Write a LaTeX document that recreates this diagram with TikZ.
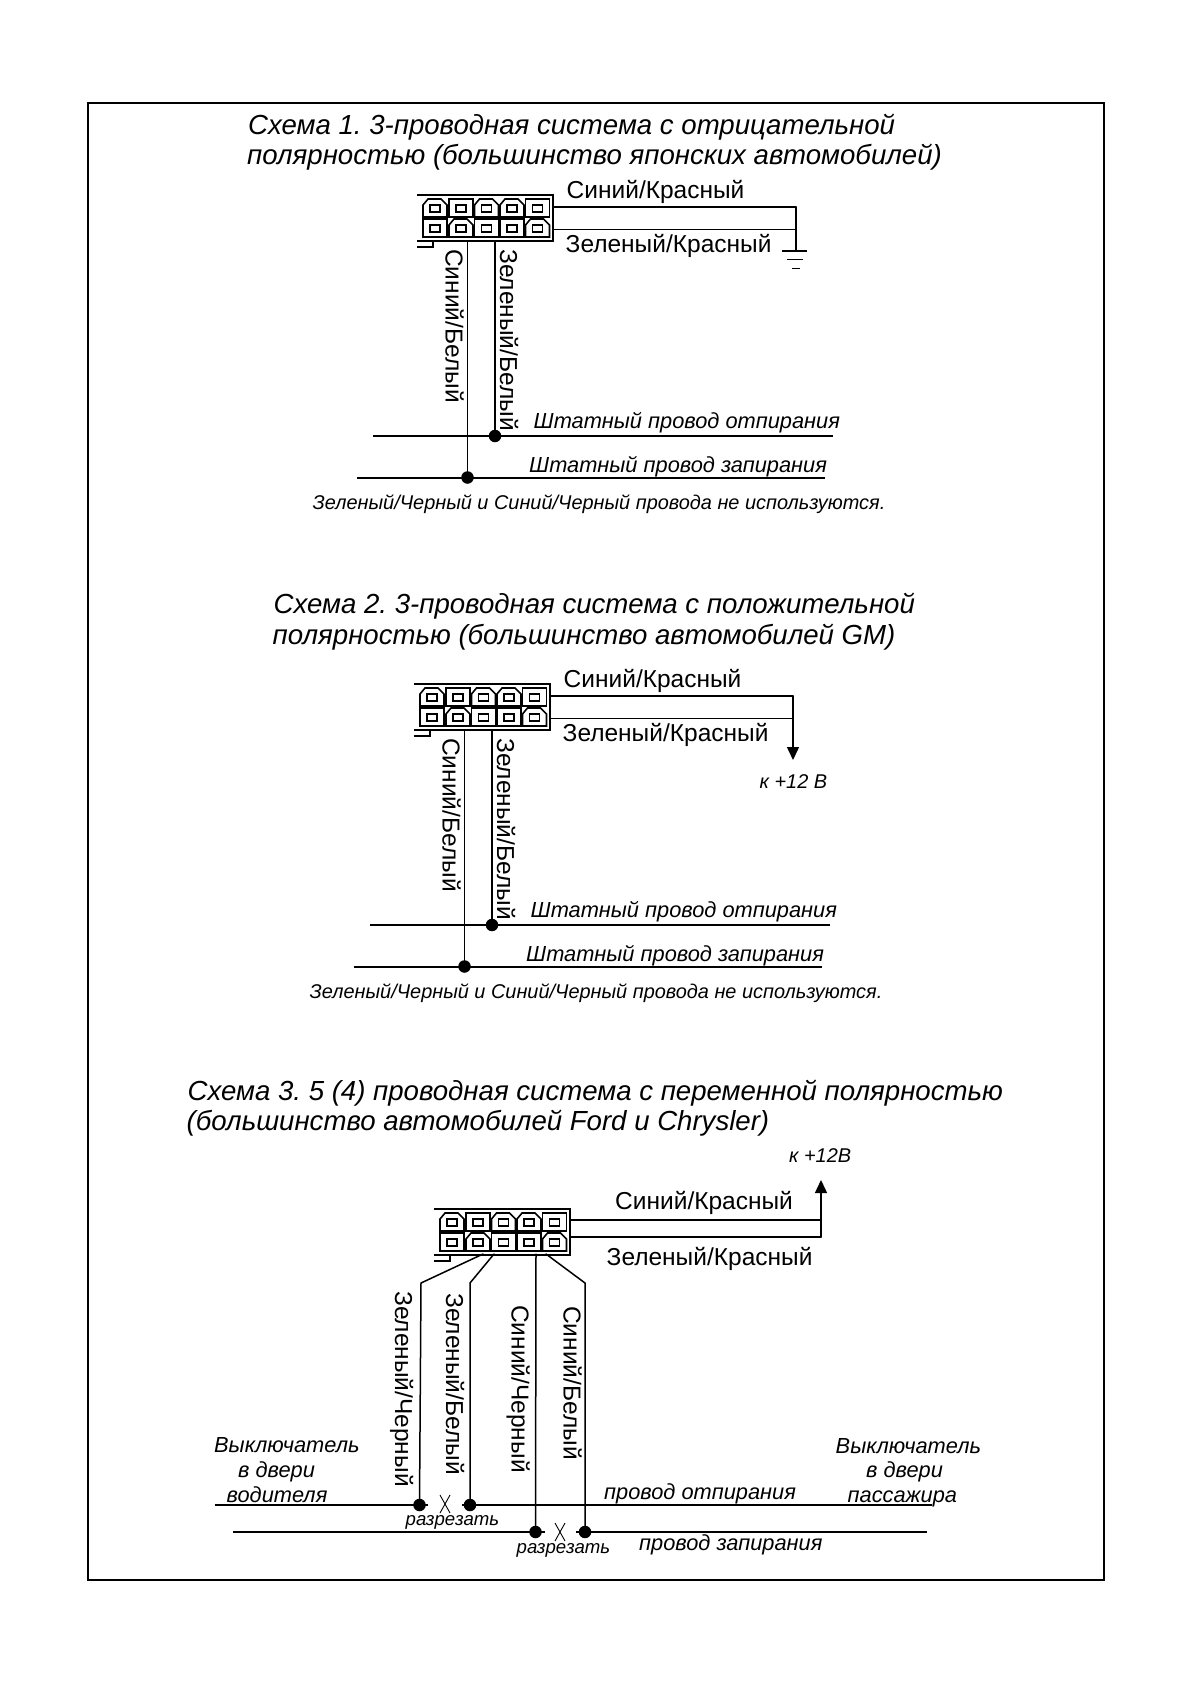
\documentclass[tikz,border=0pt]{standalone}
\usepackage{fontspec}
\setmainfont{Liberation Sans}
\usetikzlibrary{arrows.meta}
\tikzset{
  x=1pt,y=-1pt,
  wire/.style={line width=1.5pt,line cap=round},
  busline/.style={line width=2pt},
  celldraw/.style={line width=1.6pt,draw=black,fill=white},
  pinbox/.style={line width=1.4pt,draw=black},
  titletext/.style={inner sep=0,anchor=base west,font=\fontsize{27.6}{27.6}\selectfont\itshape},
  lbl/.style={inner sep=0,anchor=base west,font=\fontsize{24.5}{24.5}\selectfont},
  vlbl/.style={inner sep=0,anchor=base west,rotate=-90,font=\fontsize{24.5}{24.5}\selectfont},
  ital/.style={inner sep=0,anchor=base west,font=\fontsize{21.8}{21.8}\selectfont\itshape},
  noteit/.style={inner sep=0,anchor=base west,font=\fontsize{19.9}{19.9}\selectfont\itshape},
  cutlbl/.style={inner sep=0,anchor=base west,font=\fontsize{18.6}{18.6}\selectfont\itshape},
  dot/.style={circle,fill=black,inner sep=0,minimum size=12.5pt},
  arrowwire/.style={wire,-{Triangle[length=13pt,width=12pt]}},
}
\newcommand{\chamcell}[2]{%
  \draw[celldraw] (#1,#2+18)--(#1,#2+6)--(#1+5,#2)--(#1+18,#2)--(#1+24,#2+6)--(#1+24,#2+18)--cycle;
  \draw[pinbox] (#1+7,#2+6) rectangle (#1+17,#2+13);}
\newcommand{\sqcell}[2]{%
  \draw[celldraw] (#1,#2) rectangle (#1+24,#2+18);
  \draw[pinbox] (#1+7,#2+6) rectangle (#1+17,#2+13);}
% connector housing, drawn from its top-left corner
\newcommand{\housing}{%
  \draw[line width=1.8pt] (0,0)--(136,0)--(136,46)--(0,46);
  \draw[line width=1.4pt] (16,46)--(16,52)--(0,52);
  \chamcell{6}{4}\sqcell{32}{4}\chamcell{57.5}{4}\chamcell{83}{4}\sqcell{108.5}{4}
  \sqcell{6}{24}\chamcell{32}{24}\sqcell{57.5}{24}\sqcell{83}{24}\chamcell{108.5}{24}}
% the part shared by schemes 1 and 2
\newcommand{\threewire}[1]{%
  \housing
  \coordinate (#1hr) at (136,12);
  \coordinate (#1hg) at (136,34.5);
  \coordinate (#1j) at (379,12);
  \coordinate (#1k) at (379,34.5);
  \draw[wire] (#1hr)--(#1j);
  \draw[wire] (#1hg)--(#1k);
  \node[lbl] (#1lr) at (149.5,3) {Синий/Красный};
  \node[lbl] (#1lg) at (148.5,57.5) {Зеленый/Красный};
  \coordinate (#1a) at (50.5,46);
  \coordinate (#1b) at (78,46);
  \node[dot] (#1da) at (50.5,282.5) {};
  \node[dot] (#1db) at (78,241) {};
  \draw[wire] (#1a)--(#1da.center);
  \draw[wire] (#1b)--(#1db.center);
  \node[vlbl] (#1va) at (28.5,54) {Синий/Белый};
  \node[vlbl] (#1vb) at (83,54) {Зеленый/Белый};
  \coordinate (#1l1) at (-44,241);
  \coordinate (#1r1) at (416,241);
  \coordinate (#1l2) at (-60,282.5);
  \coordinate (#1r2) at (408,282.5);
  \draw[busline] (#1l1)--(#1r1);
  \draw[busline] (#1l2)--(#1r2);
  \node[ital] (#1t1) at (116.5,233.5) {Штатный провод отпирания};
  \node[ital] (#1t2) at (112,277.5) {Штатный провод запирания};
  \node[noteit] (#1t3) at (-104.5,314.5) {Зеленый/Черный и Синий/Черный провода не используются.};}
\begin{document}
\frenchspacing
\begin{tikzpicture}
\useasboundingbox (0,0) rectangle (1190,1684);
\fill[white] (0,0) rectangle (1190,1684);
\draw[line width=2pt] (87.5,102.5) rectangle (1104,1580);

% Scheme 1
\node[titletext] (t1a) at (248,134) {Схема 1. 3-проводная система с отрицательной};
\node[titletext] (t1b) at (247,164.5) {полярностью (большинство японских автомобилей)};
\begin{scope}[shift={(417,195)}]
  \threewire{A}
  \coordinate (gtop) at (379,12);
  \coordinate (gbot) at (379,56);
  \draw[wire] (gtop)--(gbot);
  \draw[line width=1.8pt] (365,56)--(390,56);
  \draw[line width=1pt] (370,64)--(386,64);
  \draw[line width=1pt] (375,73)--(383,73);
\end{scope}

% Scheme 2
\node[titletext] (t2a) at (273.5,613) {Схема 2. 3-проводная система с положительной};
\node[titletext] (t2b) at (272.5,644) {полярностью (большинство автомобилей GM)};
\begin{scope}[shift={(414,684)}]
  \threewire{B}
  \coordinate (btop) at (379,12);
  \coordinate (bbot) at (379,76);
  \draw[arrowwire] (btop)--(bbot);
  \node[noteit] (bv) at (345.5,104) {к +12 В};
\end{scope}

% Scheme 3
\node[titletext] (t3a) at (187.5,1100) {Схема 3. 5 (4) проводная система с переменной полярностью};
\node[titletext] (t3b) at (186.5,1130) {(большинство автомобилей Ford и Chrysler)};
\node[noteit] (cv) at (789,1162) {к +12В};
\begin{scope}[shift={(434,1209)}]
  \housing
\end{scope}
\coordinate (hr3) at (570,1220);
\coordinate (hg3) at (570,1237);
\coordinate (jr3) at (821,1220);
\coordinate (jg3) at (821,1237);
\coordinate (tip3) at (821,1180);
\draw[wire] (hr3)--(jr3);
\draw[wire] (hg3)--(jg3);
\draw[arrowwire] (jg3)--(tip3);
\node[lbl] (lr3) at (615,1209) {Синий/Красный};
\node[lbl] (lg3) at (606.5,1265) {Зеленый/Красный};

\node[dot] (d1) at (419.5,1505) {};
\node[dot] (d2) at (470,1505) {};
\node[dot] (d3) at (535.5,1532) {};
\node[dot] (d4) at (585,1532) {};
\coordinate (s1) at (483,1254);
\coordinate (s2) at (494,1254);
\coordinate (s3) at (536,1254);
\coordinate (s4) at (546,1254);
\draw[wire] (s1)--(421,1283)--(d1.center);
\draw[wire] (s2)--(470,1283)--(d2.center);
\draw[wire] (s3)--(d3.center);
\draw[wire] (s4)--(585,1283)--(d4.center);

\coordinate (b1l) at (214.5,1505);
\coordinate (b1m) at (428,1505);
\coordinate (b1n) at (462,1505);
\coordinate (b1r) at (932,1505);
\coordinate (b2l) at (233,1532);
\coordinate (b2m) at (545,1532);
\coordinate (b2n) at (576,1532);
\coordinate (b2r) at (927,1532);
\draw[busline] (b1l)--(b1m);
\draw[busline] (b1n)--(b1r);
\draw[busline] (b2l)--(b2m);
\draw[busline] (b2n)--(b2r);
\draw[line width=0.9pt] (440,1495)--(450,1513) (450,1495)--(440,1513);
\draw[line width=0.9pt] (555,1523)--(565,1541) (565,1523)--(555,1541);

\node[vlbl] (v1) at (395,1291) {Зеленый/Черный};
\node[vlbl] (v2) at (446,1293) {Зеленый/Белый};
\node[vlbl] (v3) at (511.5,1305) {Синий/Черный};
\node[vlbl] (v4) at (563.5,1306) {Синий/Белый};

\node[cutlbl] (cut1) at (405.5,1525) {разрезать};
\node[cutlbl] (cut2) at (516.5,1553) {разрезать};
\node[ital] (ll1) at (214,1452) {Выключатель};
\node[ital] (ll2) at (238,1477) {в двери};
\node[ital] (ll3) at (226.5,1502) {водителя};
\node[ital] (rl1) at (835.5,1453) {Выключатель};
\node[ital] (rl2) at (866,1477) {в двери};
\node[ital] (rl3) at (847.5,1502) {пассажира};
\node[ital] (m1) at (604,1499) {провод отпирания};
\node[ital] (m2) at (639,1550) {провод запирания};
\end{tikzpicture}
\end{document}
